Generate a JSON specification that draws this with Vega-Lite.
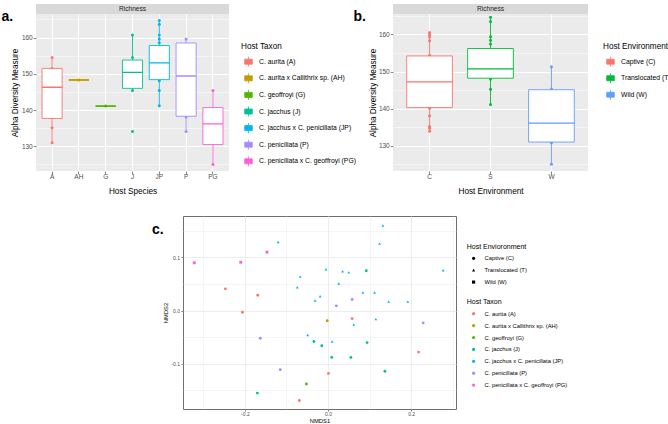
{
  "$schema": "https://vega.github.io/schema/vega-lite/v6.json",
  "padding": {"left": 1, "top": 4, "right": 0, "bottom": 0},
  "background": "white",
  "columns": 3,
  "spacing": {"row": 0, "column": 0},
  "bounds": "flush",
  "resolve": {"scale": {"color": "independent", "stroke": "independent", "shape": "independent", "x": "independent", "y": "independent"}},
  "datasets": {
    "boxA": [
      {"code": "A", "taxon": "C. aurita (A)", "lo": 131.0, "q1": 137.7, "med": 146.3, "q3": 151.5, "hi": 154.5},
      {"code": "AH", "taxon": "C. aurita x Callithrix sp. (AH)", "lo": 148.3, "q1": 148.3, "med": 148.3, "q3": 148.3, "hi": 148.3},
      {"code": "G", "taxon": "C. geoffroyi (G)", "lo": 141.1, "q1": 141.1, "med": 141.1, "q3": 141.1, "hi": 141.1},
      {"code": "J", "taxon": "C. jacchus (J)", "lo": 145.4, "q1": 146.0, "med": 150.4, "q3": 153.8, "hi": 160.7},
      {"code": "JP", "taxon": "C. jacchus x C. penicillata (JP)", "lo": 141.2, "q1": 148.4, "med": 153.0, "q3": 157.8, "hi": 164.7},
      {"code": "P", "taxon": "C. penicillata (P)", "lo": 134.1, "q1": 138.3, "med": 149.4, "q3": 158.5, "hi": 159.6},
      {"code": "PG", "taxon": "C. penicillata x C. geoffroyi (PG)", "lo": 125.0, "q1": 130.5, "med": 136.2, "q3": 140.7, "hi": 145.4}
    ],
    "ptsA": [
      {"code": "A", "taxon": "C. aurita (A)", "v": 154.5},
      {"code": "A", "taxon": "C. aurita (A)", "v": 151.5},
      {"code": "A", "taxon": "C. aurita (A)", "v": 135.1},
      {"code": "A", "taxon": "C. aurita (A)", "v": 131.0},
      {"code": "AH", "taxon": "C. aurita x Callithrix sp. (AH)", "v": 148.3},
      {"code": "G", "taxon": "C. geoffroyi (G)", "v": 141.1},
      {"code": "J", "taxon": "C. jacchus (J)", "v": 160.7},
      {"code": "J", "taxon": "C. jacchus (J)", "v": 154.5},
      {"code": "J", "taxon": "C. jacchus (J)", "v": 145.4},
      {"code": "J", "taxon": "C. jacchus (J)", "v": 134.1},
      {"code": "JP", "taxon": "C. jacchus x C. penicillata (JP)", "v": 164.7},
      {"code": "JP", "taxon": "C. jacchus x C. penicillata (JP)", "v": 163.7},
      {"code": "JP", "taxon": "C. jacchus x C. penicillata (JP)", "v": 160.7},
      {"code": "JP", "taxon": "C. jacchus x C. penicillata (JP)", "v": 159.6},
      {"code": "JP", "taxon": "C. jacchus x C. penicillata (JP)", "v": 158.6},
      {"code": "JP", "taxon": "C. jacchus x C. penicillata (JP)", "v": 148.1},
      {"code": "JP", "taxon": "C. jacchus x C. penicillata (JP)", "v": 145.4},
      {"code": "JP", "taxon": "C. jacchus x C. penicillata (JP)", "v": 141.2},
      {"code": "P", "taxon": "C. penicillata (P)", "v": 159.6},
      {"code": "P", "taxon": "C. penicillata (P)", "v": 138.1},
      {"code": "P", "taxon": "C. penicillata (P)", "v": 134.1},
      {"code": "PG", "taxon": "C. penicillata x C. geoffroyi (PG)", "v": 145.4},
      {"code": "PG", "taxon": "C. penicillata x C. geoffroyi (PG)", "v": 125.0}
    ],
    "boxB": [
      {"code": "C", "env": "Captive (C)", "lo": 133.9, "q1": 140.3, "med": 147.2, "q3": 154.2, "hi": 160.5},
      {"code": "S", "env": "Translocated (T)", "lo": 141.1, "q1": 148.2, "med": 150.7, "q3": 156.2, "hi": 164.6},
      {"code": "W", "env": "Wild (W)", "lo": 125.0, "q1": 131.0, "med": 136.1, "q3": 145.1, "hi": 151.3}
    ],
    "ptsB": [
      {"code": "C", "env": "Captive (C)", "v": 160.5},
      {"code": "C", "env": "Captive (C)", "v": 159.9},
      {"code": "C", "env": "Captive (C)", "v": 159.3},
      {"code": "C", "env": "Captive (C)", "v": 158.3},
      {"code": "C", "env": "Captive (C)", "v": 154.4},
      {"code": "C", "env": "Captive (C)", "v": 140.1},
      {"code": "C", "env": "Captive (C)", "v": 138.1},
      {"code": "C", "env": "Captive (C)", "v": 135.2},
      {"code": "C", "env": "Captive (C)", "v": 134.7},
      {"code": "C", "env": "Captive (C)", "v": 133.9},
      {"code": "S", "env": "Translocated (T)", "v": 164.6},
      {"code": "S", "env": "Translocated (T)", "v": 163.5},
      {"code": "S", "env": "Translocated (T)", "v": 159.4},
      {"code": "S", "env": "Translocated (T)", "v": 158.4},
      {"code": "S", "env": "Translocated (T)", "v": 157.4},
      {"code": "S", "env": "Translocated (T)", "v": 148.0},
      {"code": "S", "env": "Translocated (T)", "v": 145.2},
      {"code": "S", "env": "Translocated (T)", "v": 141.1},
      {"code": "W", "env": "Wild (W)", "v": 151.3},
      {"code": "W", "env": "Wild (W)", "v": 145.3},
      {"code": "W", "env": "Wild (W)", "v": 130.8},
      {"code": "W", "env": "Wild (W)", "v": 125.0}
    ],
    "nmds": [
      {"taxon": "C. jacchus x C. penicillata (JP)", "env": "Translocated (T)", "nmds1": 0.132, "nmds2": 0.160},
      {"taxon": "C. jacchus x C. penicillata (JP)", "env": "Translocated (T)", "nmds1": -0.120, "nmds2": 0.129},
      {"taxon": "C. jacchus x C. penicillata (JP)", "env": "Translocated (T)", "nmds1": 0.124, "nmds2": 0.126},
      {"taxon": "C. penicillata x C. geoffroyi (PG)", "env": "Wild (W)", "nmds1": -0.147, "nmds2": 0.110},
      {"taxon": "C. penicillata x C. geoffroyi (PG)", "env": "Wild (W)", "nmds1": -0.210, "nmds2": 0.091},
      {"taxon": "C. penicillata x C. geoffroyi (PG)", "env": "Wild (W)", "nmds1": -0.322, "nmds2": 0.090},
      {"taxon": "C. jacchus x C. penicillata (JP)", "env": "Translocated (T)", "nmds1": -0.005, "nmds2": 0.078},
      {"taxon": "C. jacchus x C. penicillata (JP)", "env": "Translocated (T)", "nmds1": 0.035, "nmds2": 0.074},
      {"taxon": "C. jacchus x C. penicillata (JP)", "env": "Translocated (T)", "nmds1": 0.050, "nmds2": 0.072},
      {"taxon": "C. jacchus (J)", "env": "Captive (C)", "nmds1": 0.092, "nmds2": 0.075},
      {"taxon": "C. jacchus x C. penicillata (JP)", "env": "Translocated (T)", "nmds1": 0.277, "nmds2": 0.076},
      {"taxon": "C. jacchus x C. penicillata (JP)", "env": "Translocated (T)", "nmds1": -0.067, "nmds2": 0.064},
      {"taxon": "C. jacchus x C. penicillata (JP)", "env": "Translocated (T)", "nmds1": 0.026, "nmds2": 0.051},
      {"taxon": "C. aurita (A)", "env": "Captive (C)", "nmds1": -0.247, "nmds2": 0.041},
      {"taxon": "C. jacchus x C. penicillata (JP)", "env": "Translocated (T)", "nmds1": -0.074, "nmds2": 0.044},
      {"taxon": "C. jacchus x C. penicillata (JP)", "env": "Translocated (T)", "nmds1": 0.084, "nmds2": 0.034},
      {"taxon": "C. jacchus x C. penicillata (JP)", "env": "Translocated (T)", "nmds1": 0.112, "nmds2": 0.034},
      {"taxon": "C. aurita (A)", "env": "Captive (C)", "nmds1": -0.169, "nmds2": 0.029},
      {"taxon": "C. jacchus x C. penicillata (JP)", "env": "Translocated (T)", "nmds1": -0.019, "nmds2": 0.027},
      {"taxon": "C. jacchus x C. penicillata (JP)", "env": "Translocated (T)", "nmds1": -0.031, "nmds2": 0.019},
      {"taxon": "C. penicillata (P)", "env": "Captive (C)", "nmds1": 0.058, "nmds2": 0.021},
      {"taxon": "C. jacchus x C. penicillata (JP)", "env": "Translocated (T)", "nmds1": 0.146, "nmds2": 0.017},
      {"taxon": "C. jacchus x C. penicillata (JP)", "env": "Translocated (T)", "nmds1": 0.192, "nmds2": 0.017},
      {"taxon": "C. penicillata (P)", "env": "Captive (C)", "nmds1": 0.020, "nmds2": 0.009},
      {"taxon": "C. aurita (A)", "env": "Captive (C)", "nmds1": -0.206, "nmds2": -0.003},
      {"taxon": "C. aurita (A)", "env": "Captive (C)", "nmds1": 0.058, "nmds2": -0.015},
      {"taxon": "C. aurita x Callithrix sp. (AH)", "env": "Captive (C)", "nmds1": -0.002, "nmds2": -0.019},
      {"taxon": "C. jacchus x C. penicillata (JP)", "env": "Translocated (T)", "nmds1": 0.115, "nmds2": -0.016},
      {"taxon": "C. penicillata (P)", "env": "Captive (C)", "nmds1": 0.229, "nmds2": -0.023},
      {"taxon": "C. jacchus x C. penicillata (JP)", "env": "Translocated (T)", "nmds1": 0.062, "nmds2": -0.026},
      {"taxon": "C. penicillata (P)", "env": "Captive (C)", "nmds1": -0.163, "nmds2": -0.052},
      {"taxon": "C. jacchus x C. penicillata (JP)", "env": "Translocated (T)", "nmds1": -0.049, "nmds2": -0.046},
      {"taxon": "C. jacchus (J)", "env": "Captive (C)", "nmds1": -0.034, "nmds2": -0.058},
      {"taxon": "C. jacchus (J)", "env": "Captive (C)", "nmds1": -0.015, "nmds2": -0.066},
      {"taxon": "C. jacchus x C. penicillata (JP)", "env": "Translocated (T)", "nmds1": 0.010, "nmds2": -0.058},
      {"taxon": "C. jacchus (J)", "env": "Captive (C)", "nmds1": 0.094, "nmds2": -0.060},
      {"taxon": "C. aurita (A)", "env": "Captive (C)", "nmds1": 0.218, "nmds2": -0.078},
      {"taxon": "C. jacchus (J)", "env": "Captive (C)", "nmds1": 0.009, "nmds2": -0.088},
      {"taxon": "C. jacchus (J)", "env": "Captive (C)", "nmds1": 0.055, "nmds2": -0.088},
      {"taxon": "C. penicillata (P)", "env": "Captive (C)", "nmds1": -0.115, "nmds2": -0.111},
      {"taxon": "C. aurita (A)", "env": "Captive (C)", "nmds1": 0.001, "nmds2": -0.118},
      {"taxon": "C. jacchus (J)", "env": "Captive (C)", "nmds1": 0.137, "nmds2": -0.114},
      {"taxon": "C. geoffroyi (G)", "env": "Captive (C)", "nmds1": -0.052, "nmds2": -0.138},
      {"taxon": "C. jacchus (J)", "env": "Captive (C)", "nmds1": -0.170, "nmds2": -0.155},
      {"taxon": "C. aurita (A)", "env": "Captive (C)", "nmds1": -0.069, "nmds2": -0.169}
    ]
  },
  "concat": [
    {
      "width": 193, "height": 10,
      "view": {"fill": "#D9D9D9", "stroke": null},
      "data": {"values": [{"strip": "Richness"}]},
      "mark": {"type": "text", "fontSize": 6.6, "color": "#1A1A1A"},
      "encoding": {
        "text": {"field": "strip", "type": "nominal"},
        "x": {"field": "strip", "type": "nominal",
          "axis": {"orient": "top", "labels": false, "ticks": false, "domain": false, "grid": false,
            "title": "a.", "titleX": -35, "titleY": 16, "titleAlign": "left", "titleBaseline": "alphabetic", "titleAngle": 0,
            "titleFontSize": 14, "titleFontWeight": "bold", "titleColor": "#000000"}}
      }
    },
    {"width": 164, "height": 10, "data": {"values": []}, "mark": "point", "encoding": {}},
    {
      "width": 195, "height": 10,
      "view": {"fill": "#D9D9D9", "stroke": null},
      "data": {"values": [{"strip": "Richness"}]},
      "mark": {"type": "text", "fontSize": 6.6, "color": "#1A1A1A"},
      "encoding": {
        "text": {"field": "strip", "type": "nominal"},
        "x": {"field": "strip", "type": "nominal",
          "axis": {"orient": "top", "labels": false, "ticks": false, "domain": false, "grid": false,
            "title": "b.", "titleX": -40, "titleY": 16, "titleAlign": "left", "titleBaseline": "alphabetic", "titleAngle": 0,
            "titleFontSize": 14, "titleFontWeight": "bold", "titleColor": "#000000"}}
      }
    },
    {
      "width": 193, "height": 157,
      "view": {"fill": "#EBEBEB", "stroke": null},
      "resolve": {"axis": {"x": "independent", "y": "independent"}},
      "layer": [
        {
          "data": {"name": "boxA"},
          "mark": {"type": "rule", "strokeWidth": 0.9},
          "encoding": {
            "x": {"field": "code", "type": "nominal", "sort": null,
              "scale": {"domain": ["A", "AH", "G", "J", "JP", "P", "PG"], "paddingInner": 0.25, "paddingOuter": 0.225},
              "axis": {"orient": "bottom", "title": "Host Species", "labelAngle": 0, "grid": true, "gridColor": "#FFFFFF", "gridWidth": 1, "labelFontSize": 6.5, "titleFontSize": 8.2, "labelPadding": 0, "titlePadding": 7.5}},
            "y": {"field": "lo", "type": "quantitative",
              "scale": {"domain": [123.2, 166.5], "nice": false, "zero": false},
              "axis": {"orient": "left", "title": "Alpha Diversity Measure", "values": [125, 130, 135, 140, 145, 150, 155, 160, 165], "format": "d",
                "labelOpacity": {"condition": {"test": "datum.value % 10 === 0", "value": 1}, "value": 0},
                "grid": true, "gridColor": "#FFFFFF",
                "gridWidth": {"condition": {"test": "datum.value % 10 === 0", "value": 1.1}, "value": 0.5},
                "tickOpacity": {"condition": {"test": "datum.value % 10 === 0", "value": 1}, "value": 0},
                "labelFontSize": 6.5, "titleFontSize": 8.2, "labelPadding": 1, "titlePadding": 1.5}},
            "y2": {"field": "hi"},
            "color": {"field": "taxon", "type": "nominal",
              "scale": {"domain": ["C. aurita (A)", "C. aurita x Callithrix sp. (AH)", "C. geoffroyi (G)", "C. jacchus (J)", "C. jacchus x C. penicillata (JP)", "C. penicillata (P)", "C. penicillata x C. geoffroyi (PG)"],
                "range": ["#F8766D", "#C49A00", "#53B400", "#00C094", "#00B6EB", "#A58AFF", "#FB61D7"]},
              "legend": {"title": "Host Taxon", "orient": "none", "legendX": 205, "legendY": 29, "titleFontSize": 8.2, "titlePadding": 5, "labelFontSize": 6.8,
                "symbolType": "M-0.75,-0.5H0.75V0.5H-0.75Z M-0.75,0H0.75 M0,-0.5V-1 M0,0.5V1", "symbolSize": 100, "symbolStrokeWidth": 0.8, "symbolFillColor": "#FFFFFF", "symbolOffset": 2, "labelOffset": 5, "rowPadding": 1.6}}
          }
        },
        {
          "data": {"name": "ptsA"},
          "mark": {"type": "circle", "size": 9, "opacity": 1},
          "encoding": {
            "x": {"field": "code", "type": "nominal", "sort": null, "axis": null},
            "y": {"field": "v", "type": "quantitative", "axis": null},
            "color": {"field": "taxon", "type": "nominal", "legend": null}
          }
        },
        {
          "data": {"name": "boxA"},
          "mark": {"type": "rect", "fill": "#FFFFFF", "strokeWidth": 0.9},
          "encoding": {
            "x": {"field": "code", "type": "nominal", "sort": null, "axis": null},
            "y": {"field": "q1", "type": "quantitative", "axis": null},
            "y2": {"field": "q3"},
            "stroke": {"field": "taxon", "type": "nominal",
              "scale": {"domain": ["C. aurita (A)", "C. aurita x Callithrix sp. (AH)", "C. geoffroyi (G)", "C. jacchus (J)", "C. jacchus x C. penicillata (JP)", "C. penicillata (P)", "C. penicillata x C. geoffroyi (PG)"],
                "range": ["#F8766D", "#C49A00", "#53B400", "#00C094", "#00B6EB", "#A58AFF", "#FB61D7"]},
              "legend": null}
          }
        },
        {
          "data": {"name": "boxA"},
          "mark": {"type": "rect", "fillOpacity": 0, "strokeWidth": 1.3},
          "encoding": {
            "x": {"field": "code", "type": "nominal", "sort": null, "axis": null},
            "y": {"field": "med", "type": "quantitative", "axis": null},
            "y2": {"field": "med"},
            "stroke": {"field": "taxon", "type": "nominal", "legend": null}
          }
        }
      ]
    },
    {"width": 164, "height": 1, "data": {"values": []}, "mark": "point", "encoding": {}},
    {
      "width": 195, "height": 157,
      "view": {"fill": "#EBEBEB", "stroke": null},
      "resolve": {"axis": {"x": "independent", "y": "independent"}},
      "layer": [
        {
          "data": {"name": "boxB"},
          "mark": {"type": "rule", "strokeWidth": 0.9},
          "encoding": {
            "x": {"field": "code", "type": "nominal", "sort": null,
              "scale": {"domain": ["C", "S", "W"], "paddingInner": 0.25, "paddingOuter": 0.225},
              "axis": {"orient": "bottom", "title": "Host Environment", "labelAngle": 0, "grid": true, "gridColor": "#FFFFFF", "gridWidth": 1, "labelFontSize": 6.5, "titleFontSize": 8.2, "labelPadding": 0, "titlePadding": 7.5}},
            "y": {"field": "lo", "type": "quantitative",
              "scale": {"domain": [123.2, 165.5], "nice": false, "zero": false},
              "axis": {"orient": "left", "title": "Alpha Diversity Measure", "values": [125, 130, 135, 140, 145, 150, 155, 160, 165], "format": "d",
                "labelOpacity": {"condition": {"test": "datum.value % 10 === 0", "value": 1}, "value": 0},
                "grid": true, "gridColor": "#FFFFFF",
                "gridWidth": {"condition": {"test": "datum.value % 10 === 0", "value": 1.1}, "value": 0.5},
                "tickOpacity": {"condition": {"test": "datum.value % 10 === 0", "value": 1}, "value": 0},
                "labelFontSize": 6.5, "titleFontSize": 8.2, "labelPadding": 1, "titlePadding": 1}},
            "y2": {"field": "hi"},
            "color": {"field": "env", "type": "nominal",
              "scale": {"domain": ["Captive (C)", "Translocated (T)", "Wild (W)"], "range": ["#F8766D", "#00BA38", "#619CFF"]},
              "legend": {"title": "Host Environment", "orient": "none", "legendX": 210, "legendY": 29, "titleFontSize": 8.2, "titlePadding": 5, "labelFontSize": 6.8,
                "symbolType": "M-0.75,-0.5H0.75V0.5H-0.75Z M-0.75,0H0.75 M0,-0.5V-1 M0,0.5V1", "symbolSize": 100, "symbolStrokeWidth": 0.8, "symbolFillColor": "#FFFFFF", "symbolOffset": 2, "labelOffset": 5, "rowPadding": 1.5}}
          }
        },
        {
          "data": {"name": "ptsB"},
          "mark": {"type": "circle", "size": 9, "opacity": 1},
          "encoding": {
            "x": {"field": "code", "type": "nominal", "sort": null, "axis": null},
            "y": {"field": "v", "type": "quantitative", "axis": null},
            "color": {"field": "env", "type": "nominal", "legend": null}
          }
        },
        {
          "data": {"name": "boxB"},
          "mark": {"type": "rect", "fill": "#FFFFFF", "strokeWidth": 0.9},
          "encoding": {
            "x": {"field": "code", "type": "nominal", "sort": null, "axis": null},
            "y": {"field": "q1", "type": "quantitative", "axis": null},
            "y2": {"field": "q3"},
            "stroke": {"field": "env", "type": "nominal",
              "scale": {"domain": ["Captive (C)", "Translocated (T)", "Wild (W)"], "range": ["#F8766D", "#00BA38", "#619CFF"]},
              "legend": null}
          }
        },
        {
          "data": {"name": "boxB"},
          "mark": {"type": "rect", "fillOpacity": 0, "strokeWidth": 1.3},
          "encoding": {
            "x": {"field": "code", "type": "nominal", "sort": null, "axis": null},
            "y": {"field": "med", "type": "quantitative", "axis": null},
            "y2": {"field": "med"},
            "stroke": {"field": "env", "type": "nominal", "legend": null}
          }
        }
      ]
    },
    {"width": 1, "height": 45, "data": {"values": []}, "mark": "point", "encoding": {}},
    {"width": 1, "height": 45, "data": {"values": []}, "mark": "point", "encoding": {}},
    {"width": 1, "height": 45, "data": {"values": []}, "mark": "point", "encoding": {}},
    {
      "hconcat": [
        {
          "width": 147, "height": 1,
          "data": {"values": [{"panel": "c."}]},
          "mark": {"type": "point", "opacity": 0},
          "encoding": {
            "x": {"field": "panel", "type": "nominal",
              "axis": {"orient": "top", "labels": false, "ticks": false, "domain": false, "grid": false,
                "title": "c.", "titleX": 115.5, "titleY": 17.5, "titleAlign": "left", "titleBaseline": "alphabetic", "titleAngle": 0,
                "titleFontSize": 14, "titleFontWeight": "bold", "titleColor": "#000000"}}
          }
        },
        {
          "width": 273, "height": 193,
          "view": {"fill": "#FFFFFF", "stroke": "#6E6E6E", "strokeWidth": 1},
          "data": {"name": "nmds"},
          "mark": {"type": "point", "filled": true, "size": 8, "opacity": 1},
          "encoding": {
            "x": {"field": "nmds1", "type": "quantitative",
              "scale": {"domain": [-0.349, 0.308], "nice": false, "zero": false},
              "axis": {"title": "NMDS1", "values": [-0.3, -0.2, -0.1, 0, 0.1, 0.2, 0.3],
                "labelExpr": "round(datum.value*10) % 2 === 0 ? replace(format(datum.value, '.1f'), '\u2212', '-') : ''",
                "grid": true, "gridColor": "#EBEBEB",
                "gridWidth": {"condition": {"test": "round(datum.value*10) % 2 === 0", "value": 0.9}, "value": 0.5},
                "tickOpacity": {"condition": {"test": "round(datum.value*10) % 2 === 0", "value": 1}, "value": 0},
                "tickSize": 2, "labelFontSize": 5, "titleFontSize": 5.8, "labelPadding": 0.5, "titlePadding": 1}},
            "y": {"field": "nmds2", "type": "quantitative",
              "scale": {"domain": [-0.185, 0.178], "nice": false, "zero": false},
              "axis": {"title": "NMDS2", "values": [-0.15, -0.1, -0.05, 0, 0.05, 0.1, 0.15],
                "labelExpr": "round(datum.value*20) % 2 === 0 ? replace(format(datum.value, '.1f'), '\u2212', '-') : ''",
                "grid": true, "gridColor": "#EBEBEB",
                "gridWidth": {"condition": {"test": "round(datum.value*20) % 2 === 0", "value": 0.9}, "value": 0.5},
                "tickOpacity": {"condition": {"test": "round(datum.value*20) % 2 === 0", "value": 1}, "value": 0},
                "tickSize": 2, "labelFontSize": 5, "titleFontSize": 5.8, "labelPadding": 1.5, "titlePadding": 2}},
            "color": {"field": "taxon", "type": "nominal",
              "scale": {"domain": ["C. aurita (A)", "C. aurita x Callithrix sp. (AH)", "C. geoffroyi (G)", "C. jacchus (J)", "C. jacchus x C. penicillata (JP)", "C. penicillata (P)", "C. penicillata x C. geoffroyi (PG)"],
                "range": ["#F8766D", "#C49A00", "#53B400", "#00C094", "#00B6EB", "#A58AFF", "#FB61D7"]},
              "legend": {"title": "Host Taxon", "orient": "none", "legendX": 430.7, "legendY": 82.2, "titleFontSize": 7, "titlePadding": 5.6, "labelFontSize": 5.8,
                "symbolType": "circle", "symbolSize": 10, "symbolStrokeWidth": 0, "symbolOffset": 4, "labelOffset": 8, "rowPadding": 4.9}},
            "shape": {"field": "env", "type": "nominal",
              "scale": {"domain": ["Captive (C)", "Translocated (T)", "Wild (W)"], "range": ["circle", "triangle-up", "square"]},
              "legend": {"title": "Host Envioronment", "orient": "none", "legendX": 430.7, "legendY": 26.8, "titleFontSize": 7, "titlePadding": 5.6, "labelFontSize": 5.8,
                "symbolSize": 10, "symbolStrokeWidth": 0, "symbolFillColor": "#000000", "symbolStrokeColor": "#000000", "symbolOffset": 4, "labelOffset": 8, "rowPadding": 4.9}}
          }
        }
      ],
      "spacing": 0,
      "bounds": "flush"
    }
  ],
  "config": {
    "font": "Liberation Sans",
    "view": {"stroke": null},
    "axis": {"domain": false, "tickColor": "#333333", "tickWidth": 0.6, "tickSize": 2.75, "labelColor": "#4D4D4D", "labelFont": "Liberation Sans", "titleFont": "Liberation Sans", "titleFontWeight": "normal", "titleColor": "#000000", "labelOverlap": false, "labelFlush": false},
    "legend": {"labelFont": "Liberation Sans", "titleFont": "Liberation Sans", "titleFontWeight": "normal", "titleColor": "#000000", "labelColor": "#000000", "padding": 0},
    "title": {"font": "Liberation Sans"}
  }
}
